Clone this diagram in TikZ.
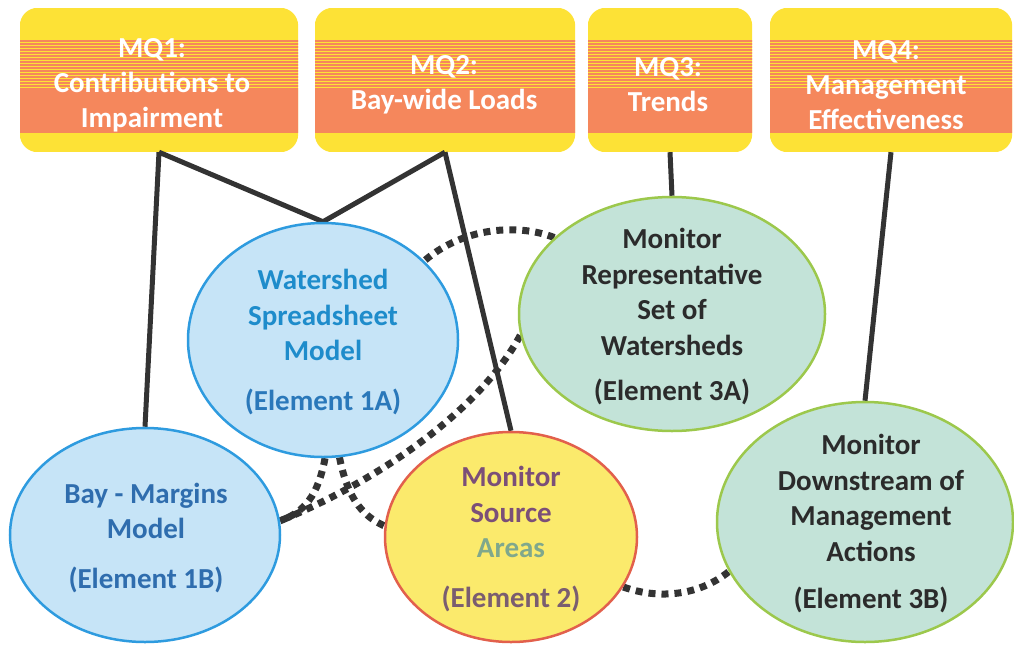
\documentclass[tikz,border=0pt]{standalone}
\usepackage{fontspec}
\setmainfont{Carlito}
\usetikzlibrary{shapes.geometric,backgrounds}

\definecolor{mqyellow}{HTML}{FDE236}
\definecolor{mqorange}{HTML}{F5875C}
\definecolor{blueFill}{HTML}{C6E4F7}
\definecolor{blueLine}{HTML}{2E9BDF}
\definecolor{yellowFill}{HTML}{FBEA6C}
\definecolor{redLine}{HTML}{E2604C}
\definecolor{mintFill}{HTML}{C3E3D8}
\definecolor{greenLine}{HTML}{9CC84C}
\definecolor{wsBlue}{HTML}{1E8CCB}
\definecolor{elBlue}{HTML}{2A78BA}
\definecolor{bmBlue}{HTML}{2F6DAE}
\definecolor{srcPurple}{HTML}{7B4F78}
\definecolor{areaGreen}{HTML}{80A88C}
\definecolor{el2Purple}{HTML}{7A5D70}
\definecolor{darkText}{HTML}{2B2B2B}
\definecolor{wire}{HTML}{333333}

% banded yellow/orange fill behind a question panel
\newcommand\panelfill[1]{%
  \begin{scope}
    \clip[rounded corners=18pt] (#1.north west) rectangle (#1.south east);
    \begin{scope}[shift={(#1.north west)}]
      \fill[mqyellow] (0,0) rectangle (400,144);
      \fill[mqorange] (0,82) rectangle (400,125);
      \foreach \k in {0,...,16}
        \fill[mqorange] (0,{32+3*\k}) rectangle (400,{32+3*\k+2});
    \end{scope}
  \end{scope}}

\begin{document}
\begin{tikzpicture}[x=1pt,y=-1pt,
  mq/.style={rectangle, inner sep=0pt, minimum height=144pt},
  mqtxt/.style={text=white, align=center, inner sep=0pt,
    font=\bfseries\fontsize{29}{35}\selectfont},
  blob/.style={ellipse, inner sep=0pt, line width=2.5pt},
  bluebl/.style={blob, fill=blueFill, draw=blueLine},
  yellowbl/.style={blob, fill=yellowFill, draw=redLine},
  mintbl/.style={blob, fill=mintFill, draw=greenLine},
  txt/.style={align=center, inner sep=0pt,
    font=\bfseries\fontsize{29}{35.5}\selectfont},
  link/.style={draw=wire, line width=5pt},
  dots/.style={draw=wire, line width=7pt, dash pattern=on 7pt off 6pt}
]
\useasboundingbox (0,0) rectangle (1014,645);

% management question panels
\node[mq, minimum width=278pt] (mq1) at (159,80) {};
\node[mq, minimum width=260pt] (mq2) at (445,80) {};
\node[mq, minimum width=164pt] (mq3) at (670,80) {};
\node[mq, minimum width=242pt] (mq4) at (891,80) {};
\node[mqtxt] (q1) at (152,85) {MQ1:\\Contributions to\\Impairment};
\node[mqtxt] (q2) at (444,85) {MQ2:\\Bay-wide Loads};
\node[mqtxt] (q3) at (668,85) {MQ3:\\Trends};
\node[mqtxt] (q4) at (886,85) {MQ4:\\Management\\Effectiveness};

% program elements
\node[bluebl, minimum width=270pt, minimum height=234pt] (e1a) at (323,340) {};
\node[bluebl, minimum width=270pt, minimum height=214pt] (e1b) at (145,535) {};
\node[yellowbl, minimum width=252pt, minimum height=210pt] (e2) at (511,537) {};
\node[mintbl, minimum width=306pt, minimum height=234pt] (e3a) at (672,314) {};
\node[mintbl, minimum width=296pt, minimum height=240pt] (e3b) at (865,522) {};

\node[txt, text=wsBlue] (t1a) at (323,342)
  {Watershed\\Spreadsheet\\Model\\[14pt]\textcolor{elBlue}{(Element 1A)}};
\node[txt, text=bmBlue] (t1b) at (146,538)
  {Bay - Margins\\Model\\[14pt](Element 1B)};
\node[txt, text=srcPurple] (t2) at (511,539)
  {Monitor\\Source\\\textcolor{areaGreen}{Areas}\\[14pt]\textcolor{el2Purple}{(Element 2)}};
\node[txt, text=darkText] (t3a) at (672,317)
  {Monitor\\Representative\\Set of\\Watersheds\\[10pt](Element 3A)};
\node[txt, text=darkText] (t3b) at (871,524)
  {Monitor\\Downstream of\\Management\\Actions\\[12pt](Element 3B)};

\begin{scope}[on background layer]
  \panelfill{mq1}
  \panelfill{mq2}
  \panelfill{mq3}
  \panelfill{mq4}
  % questions answered by each element
  \draw[link] (mq1.south) -- (e1b.north);
  \draw[link] (mq1.south) -- (e1a.north) -- (mq2.south);
  \draw[link] (mq2.south) -- (e2.north);
  \draw[link] (mq3.south) -- (e3a.north);
  \draw[link] (mq4.south) -- (e3b.north);
  % information exchanged between elements
  \draw[dots] (e3a.147) .. controls (520,224) and (465,226) .. (e1a.38);
  \draw[dots] (e3a.188) .. controls (480,410) and (380,480) .. (e1b.6);
  \draw[dots] (e1a.271) .. controls (318,495) and (305,512) .. (e1b.6);
  \draw[dots] (e1a.278) .. controls (347,495) and (360,515) .. (e2.175);
  \draw[dots] (e2.336) .. controls (660,600) and (700,595) .. (e3b.200);
\end{scope}
\end{tikzpicture}
\end{document}
